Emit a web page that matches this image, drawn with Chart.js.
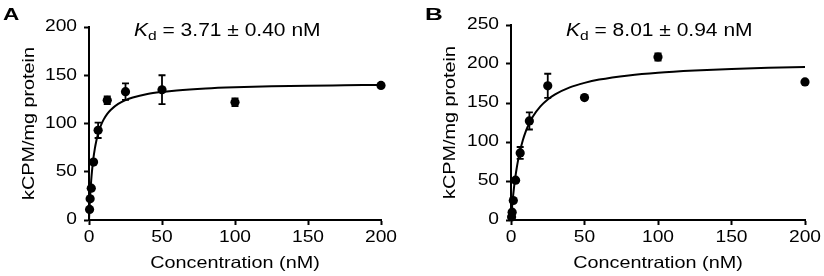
<!DOCTYPE html>
<html><head><meta charset="utf-8">
<script src="https://cdn.jsdelivr.net/npm/chart.js@4"></script>
<style>
html,body{margin:0;padding:0;background:#fff}
#wrap{position:relative;width:824px;height:276px;overflow:hidden;background:#fff}
canvas{position:absolute;top:0}
#ca{left:0}#cb{left:412px}
</style></head>
<body><div id="wrap"><canvas id="ca" width="412" height="276"></canvas><canvas id="cb" width="412" height="276"></canvas></div>
<script>
// ---- data ----
const concentrations = [0.39, 0.78, 1.56, 3.125, 6.25, 12.5, 25, 50, 100, 200];
const bindingA = [11, 22, 33, 60, 93, 124, 133, 135, 122, 139.5];
const errorA   = [0, 0, 0, 0, 8, 4, 8.5, 15, 4, 0];
const bindingB = [4, 10, 25, 51, 86, 127, 172, 157, 209, 177];
const errorB   = [0, 0, 0, 0, 7.6, 11, 15.5, 0, 4.7, 0];
const fitX = [0, 0.5, 1, 1.5, 2, 3, 4, 5, 6, 8, 10, 12.5, 15, 20, 25, 30, 40, 50, 60, 80, 100, 125, 150, 175, 200];
const fitA = [0, 16.9, 30.3, 41.1, 49.9, 63.8, 74.0, 81.9, 88.1, 97.4, 104.0, 110.0, 114.3, 120.3, 124.2, 126.9, 130.5, 132.7, 134.3, 136.3, 137.5, 138.5, 139.2, 139.6, 140.0];
const fitB = [0, 12.0, 22.6, 32.2, 40.8, 55.6, 67.9, 78.4, 87.4, 101.9, 113.3, 124.3, 133.0, 145.7, 154.5, 161.0, 170.0, 175.8, 180.0, 185.4, 188.9, 191.7, 193.7, 195.1, 196.1];
const xTicks  = [0, 50, 100, 150, 200];
const yTicksA = [0, 50, 100, 150, 200];
const yTicksB = [0, 50, 100, 150, 200, 250];
const kdTextA = '3.71 \u00B1 0.40 nM';
const kdTextB = '8.01 \u00B1 0.94 nM';
const xTitle = 'Concentration (nM)';
const yTitle = 'kCPM/mg protein';

const FF = "'Liberation Sans', Arial, sans-serif";
const SX = 1.2; // horizontal text stretch seen in the reference

function patch(ctx){
  const orig = CanvasRenderingContext2D.prototype.fillText;
  ctx.fillText = function(t, x, y){
    const sx = this.__sx || SX;
    this.save(); this.translate(x, y); this.scale(sx, 1);
    orig.call(this, t, 0, 0);
    this.restore();
  };
}

const errorBars = {
  id: 'errorBars',
  afterDatasetsDraw(chart){
    const ds = chart.data.datasets[0];
    const errs = ds.errors;
    const xs = chart.scales.x, ys = chart.scales.y, ctx = chart.ctx;
    ctx.save(); ctx.strokeStyle = '#000'; ctx.lineWidth = 1.8;
    ds.data.forEach((p, i) => {
      const e = errs[i]; if (!e) return;
      const px = xs.getPixelForValue(p.x);
      const t = ys.getPixelForValue(p.y + e), b = ys.getPixelForValue(p.y - e);
      ctx.beginPath();
      ctx.moveTo(px, t); ctx.lineTo(px, b);
      ctx.moveTo(px - 3.5, t); ctx.lineTo(px + 3.5, t);
      ctx.moveTo(px - 3.5, b); ctx.lineTo(px + 3.5, b);
      ctx.stroke();
    });
    ctx.restore();
  }
};

const annot = {
  id: 'annot',
  afterDraw(chart, args, o){
    const ctx = chart.ctx;
    ctx.save(); ctx.fillStyle = '#000'; ctx.textAlign = 'left'; ctx.textBaseline = 'alphabetic';
    // panel letter
    ctx.__sx = o.letterSx;
    ctx.font = 'bold 17px ' + FF;
    ctx.fillText(o.letter, o.letterX, 20);
    ctx.__sx = SX;
    // Kd
    let x = o.kdX;
    ctx.font = 'italic 17.5px ' + FF;
    ctx.fillText('K', x, 36); x += ctx.measureText('K').width * SX;
    ctx.font = '13px ' + FF;
    ctx.fillText('d', x, 39.5); x += ctx.measureText('d').width * SX;
    ctx.font = '17.5px ' + FF;
    ctx.fillText(' = ' + o.kd, x, 36);
    ctx.restore();
  }
};

function makeChart(id, ys, errs, fit, yTicks, ymax, g){
  const canvas = document.getElementById(id);
  const ctx = canvas.getContext('2d');
  patch(ctx);
  return new Chart(ctx, {
    type: 'scatter',
    data: { datasets: [
      { data: concentrations.map((x, i) => ({x, y: ys[i]})), errors: errs,
        pointRadius: 4.6, pointBackgroundColor: '#000', pointBorderWidth: 0, showLine: false, order: 0, clip: false },
      { data: fitX.map((x, i) => ({x, y: fit[i]})), showLine: true, pointRadius: 0,
        borderColor: '#000', borderWidth: 2, cubicInterpolationMode: 'monotone', order: 1, clip: false }
    ]},
    options: {
      responsive: false, animation: false, devicePixelRatio: 1,
      layout: { padding: { top: g.top, right: g.right, left: 0, bottom: 0 } },
      plugins: { legend: { display: false }, tooltip: { enabled: false },
        annot: { letter: g.letter, letterX: g.letterX, letterSx: g.letterSx, kdX: g.kdX, kd: g.kd } },
      scales: {
        x: {
          type: 'linear', min: 0, max: 200,
          afterFit(s){ s.height = 276 - g.bottom; },
          afterBuildTicks(s){ s.ticks = xTicks.map(v => ({value: v})); },
          grid: { display: true, drawOnChartArea: false, drawTicks: true, tickLength: 5, tickWidth: 2, color: '#000' },
          border: { display: true, width: 2, color: '#000' },
          ticks: { color: '#000', font: { family: FF, size: 16 }, padding: 3, maxRotation: 0, autoSkip: false },
          title: { display: true, text: xTitle, color: '#000', font: { family: FF, size: 16.5 }, padding: { top: 0, bottom: 3 } }
        },
        y: {
          type: 'linear', min: 0, max: ymax,
          afterFit(s){ s.width = g.left; },
          afterBuildTicks(s){ s.ticks = yTicks.map(v => ({value: v})); },
          grid: { display: true, drawOnChartArea: false, drawTicks: true, tickLength: 5, tickWidth: 2, color: '#000' },
          border: { display: true, width: 2, color: '#000' },
          ticks: { color: '#000', font: { family: FF, size: 16 }, padding: 7, autoSkip: false },
          title: { display: true, text: yTitle, color: '#000', font: { family: FF, size: 16.5 }, padding: { top: g.titlePad, bottom: 0 } }
        }
      }
    },
    plugins: [errorBars, annot]
  });
}

makeChart('ca', bindingA, errorA, fitA, yTicksA, 200,
  { top: 27, bottom: 220, left: 89, right: 31, titlePad: 20, letter: 'A', letterX: 3, letterSx: 1.33, kdX: 134, kd: kdTextA });
makeChart('cb', bindingB, errorB, fitB, yTicksB, 250,
  { top: 25, bottom: 220, left: 99, right: 19, titlePad: 29, letter: 'B', letterX: 13, letterSx: 1.45, kdX: 154, kd: kdTextB });
</script>
</body></html>
